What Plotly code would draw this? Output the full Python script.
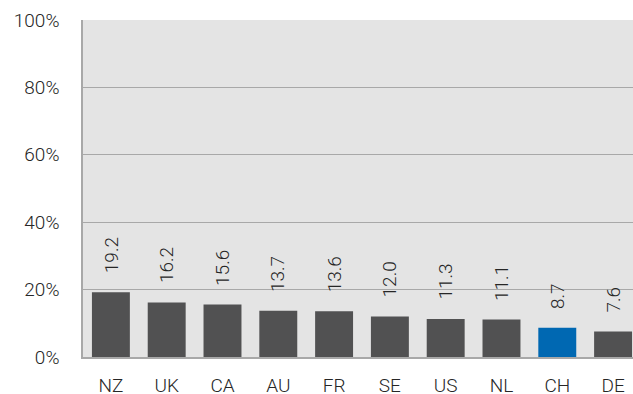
import plotly.graph_objects as go

categories = ["NZ", "UK", "CA", "AU", "FR", "SE", "US", "NL", "CH", "DE"]
values = [19.2, 16.2, 15.6, 13.7, 13.6, 12.0, 11.3, 11.1, 8.7, 7.6]
highlight = "CH"
y_ticks = [0, 0.2, 0.4, 0.6, 0.8, 1.0]

GRAY = "#515152"
BLUE = "#0068b2"
colors = [BLUE if c == highlight else GRAY for c in categories]
FONT = dict(family="Roboto", size=19, color="#262626", weight=300)

fig = go.Figure()
fig.add_trace(go.Bar(
    x=categories, y=[v / 100 for v in values],
    marker=dict(color=colors, line=dict(width=0)),
    width=0.68, hoverinfo="skip",
))

for c, v in zip(categories, values):
    fig.add_annotation(
        x=c, y=v / 100, text=f"{v:.1f}", textangle=-90,
        showarrow=False, yanchor="bottom", yshift=17, font=FONT,
    )

fig.update_layout(
    width=633, height=394,
    margin=dict(l=83, r=0, t=20, b=37),
    plot_bgcolor="#e4e4e4", paper_bgcolor="white",
    font=FONT, showlegend=False,
)
fig.update_xaxes(
    range=[-0.5, 9.357], showgrid=False, showline=True, linecolor="#a8a8a8",
    linewidth=1.5, ticks="", ticklabelstandoff=10, tickfont=FONT, automargin=False,
)
fig.update_yaxes(
    range=[0, 1], tickvals=y_ticks, tickformat=".0%", showgrid=True,
    gridcolor="#a8a8a8", gridwidth=1, showline=True, linecolor="#a8a8a8",
    linewidth=1.5, zeroline=False, ticks="", ticklabelstandoff=18, tickfont=FONT,
    automargin=False,
)

fig.write_html(
    "out.html",
    config={"displayModeBar": False},
    post_script="document.body.style.margin='0';document.body.style.overflow='hidden';",
)
